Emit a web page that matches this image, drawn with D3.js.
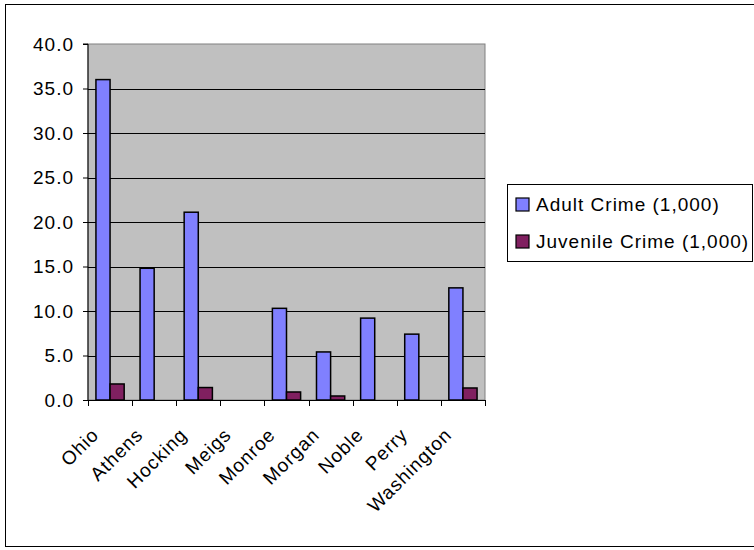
<!DOCTYPE html>
<html>
<head>
<meta charset="utf-8">
<script src="https://cdn.jsdelivr.net/npm/d3@7"></script>
<style>
  body { margin: 0; background: #fff; }
  text { font-family: "Liberation Sans", Arial, sans-serif; fill: #000; }
</style>
</head>
<body>
<svg id="chart"></svg>
<script>
// Data
const counties = ['Ohio', 'Athens', 'Hocking', 'Meigs', 'Monroe', 'Morgan', 'Noble', 'Perry', 'Washington'];
const seriesNames = ['Adult Crime (1,000)', 'Juvenile Crime (1,000)'];
const adultCrime = [36.0, 14.8, 21.1, null, 10.3, 5.4, 9.2, 7.4, 12.6];
const juvenileCrime = [1.8, null, 1.4, null, 0.9, 0.45, null, null, 1.35];
const yTicks = [0, 5, 10, 15, 20, 25, 30, 35, 40];

const colors = ['#8080FF', '#802060'];
const width = 754, height = 550;
const plot = {left: 88, top: 44, right: 485, bottom: 400};
const fontSize = '19px';

const svg = d3.select('#chart')
    .attr('width', width)
    .attr('height', height);

// outer chart border (right side runs off the picture)
svg.append('rect')
    .attr('x', 5.5).attr('y', 4.5)
    .attr('width', 760).attr('height', 542)
    .attr('fill', '#fff')
    .attr('stroke', '#000')
    .attr('stroke-width', 1);

// Scales
const x0 = d3.scaleBand()
    .domain(counties)
    .range([plot.left, plot.right])
    .paddingInner(0.36)
    .paddingOuter(0.18);

const step = (plot.right - plot.left) / counties.length;

const x1 = d3.scaleBand()
    .domain(seriesNames)
    .range([0, x0.bandwidth()]);

const y = d3.scaleLinear()
    .domain([0, 40])
    .range([plot.bottom, plot.top]);

// plot background
svg.append('rect')
    .attr('x', plot.left).attr('y', plot.top)
    .attr('width', plot.right - plot.left)
    .attr('height', plot.bottom - plot.top)
    .attr('fill', '#C0C0C0')
    .attr('stroke', '#808080')
    .attr('stroke-width', 1);

// gridlines
svg.append('g')
    .selectAll('line')
    .data(yTicks.filter(d => d > 0 && d < 40))
  .join('line')
    .attr('x1', plot.left).attr('x2', plot.right)
    .attr('y1', d => Math.round(y(d)) + 0.5)
    .attr('y2', d => Math.round(y(d)) + 0.5)
    .attr('stroke', '#000')
    .attr('stroke-width', 1);

// bars
const rows = counties.map((c, i) => ({county: c, values: [adultCrime[i], juvenileCrime[i]]}));

const groups = svg.append('g')
    .selectAll('g')
    .data(rows)
  .join('g')
    .attr('transform', d => `translate(${x0(d.county)},0)`);

groups.selectAll('rect')
    .data(d => d.values.map((v, j) => ({series: seriesNames[j], value: v, idx: j})).filter(e => e.value != null))
  .join('rect')
    .attr('x', d => x1(d.series))
    .attr('width', x1.bandwidth())
    .attr('y', d => y(d.value))
    .attr('height', d => y(0) - y(d.value))
    .attr('fill', d => colors[d.idx])
    .attr('stroke', '#000')
    .attr('stroke-width', 1.5);

// y axis
const yAxis = d3.axisLeft(y)
    .tickValues(yTicks)
    .tickSize(5)
    .tickPadding(9)
    .tickFormat(d3.format('.1f'));

const yAxisG = svg.append('g')
    .attr('transform', `translate(${plot.left},0)`)
    .call(yAxis);
yAxisG.select('.domain').attr('stroke', '#000').attr('d', `M-5,${plot.top}H0V${plot.bottom}`);
yAxisG.selectAll('.tick line').attr('stroke', '#000');
yAxisG.selectAll('.tick text')
    .style('font-size', fontSize)
    .style('letter-spacing', '1px')
    .style('font-family', '"Liberation Sans", Arial, sans-serif')
    .attr('fill', '#000');

// x axis: ticks at category boundaries
const xG = svg.append('g');
xG.append('line')
    .attr('x1', plot.left).attr('x2', plot.right)
    .attr('y1', plot.bottom + 0.5).attr('y2', plot.bottom + 0.5)
    .attr('stroke', '#000');
xG.selectAll('line.tick')
    .data(d3.range(counties.length + 1))
  .join('line')
    .attr('class', 'tick')
    .attr('x1', i => Math.round(plot.left + i * step) + 0.5)
    .attr('x2', i => Math.round(plot.left + i * step) + 0.5)
    .attr('y1', plot.bottom).attr('y2', plot.bottom + 6)
    .attr('stroke', '#000');

xG.selectAll('text')
    .data(counties)
  .join('text')
    .attr('transform', d => `translate(${x0(d) + x0.bandwidth() / 2 - 10},${plot.bottom + 36}) rotate(-45)`)
    .attr('text-anchor', 'end')
    .style('font-size', fontSize)
    .style('letter-spacing', '1px')
    .text(d => d);

// legend
const legend = svg.append('g');
legend.append('rect')
    .attr('x', 507.5).attr('y', 184.5)
    .attr('width', 245).attr('height', 77)
    .attr('fill', '#fff')
    .attr('stroke', '#000');

const items = legend.selectAll('g')
    .data(seriesNames)
  .join('g')
    .attr('transform', (d, i) => `translate(516,${198 + i * 37})`);
items.append('rect')
    .attr('width', 13).attr('height', 13)
    .attr('fill', (d, i) => colors[i])
    .attr('stroke', '#000')
    .attr('stroke-width', 1.2);
items.append('text')
    .attr('x', 20).attr('y', 12.5)
    .style('font-size', fontSize)
    .style('letter-spacing', '1px')
    .text(d => d);
</script>
</body>
</html>
